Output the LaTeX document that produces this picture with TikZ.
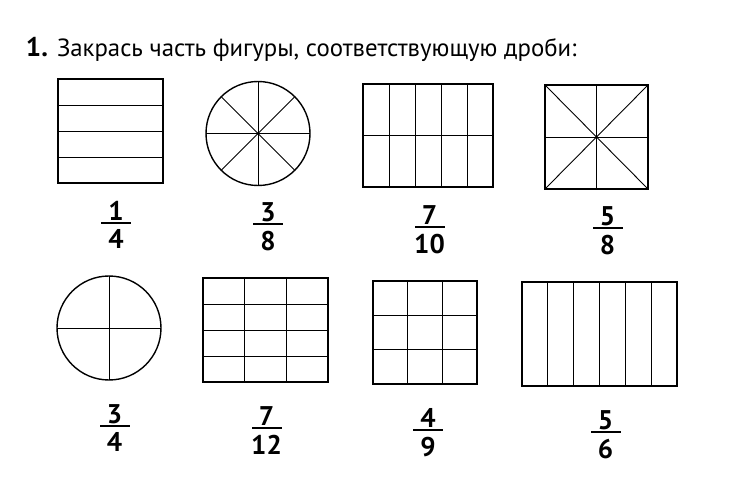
\documentclass[tikz,border=0pt]{standalone}
\usepackage{fontspec}
\setmainfont{PT Sans}
\usetikzlibrary{calc,positioning}
\tikzset{
  outline/.style={draw=black, line width=1.4pt, inner sep=0pt, outer sep=0pt},
  box/.style={outline, rectangle},
  disc/.style={outline, circle},
  inner/.style={line width=0.9pt, black},
  fbar/.style={fill=black, inner sep=0pt, outer sep=0pt, minimum width=30pt, minimum height=1.8pt},
  digit/.style={inner sep=0pt, outer sep=0pt, font=\fontsize{27}{27}\selectfont\bfseries},
  title/.style={inner sep=0pt, outer sep=0pt, anchor=base west, font=\fontsize{24.8}{24.8}\selectfont}
}
\newcommand{\fracat}[5]{% name, x, y, num, den
  \node[fbar] (#1) at (#2,#3) {};
  \node[digit, above=1.5pt of #1] (#1n) {#4};
  \node[digit, below=6pt of #1] (#1d) {#5};
}
\begin{document}
\begin{tikzpicture}[x=1pt,y=-1pt]
\useasboundingbox[fill=white] (0,0) rectangle (740,492);

% title
\node[title, font=\fontsize{27}{27}\selectfont\bfseries] (num) at (26,57) {1.};
\node[title] (ttl) at (57,57) {Закрась часть фигуры, соответствующую дроби:};

% 1: rectangle with 4 horizontal strips
\node[box, minimum width=105pt, minimum height=104pt] (r1) at (110.5,131) {};
\foreach \t in {0.25,0.5,0.75}
  \draw[inner] ($(r1.north west)!\t!(r1.south west)$) -- ($(r1.north east)!\t!(r1.south east)$);

% 2: circle in 8 sectors
\node[disc, minimum size=104pt] (c2) at (258,133.5) {};
\foreach \a in {0,45,90,135}
  \draw[inner] (c2.\a) -- (c2.\a+180);
\fill (c2.center) circle (1.3pt);

% 3: rectangle 5 x 2
\node[box, minimum width=130pt, minimum height=103pt] (r3) at (428,135.5) {};
\foreach \t in {0.2,0.4,0.6,0.8}
  \draw[inner] ($(r3.north west)!\t!(r3.north east)$) -- ($(r3.south west)!\t!(r3.south east)$);
\draw[inner] (r3.west) -- (r3.east);

% 4: square with diagonals and midlines
\node[box, minimum width=103pt, minimum height=104pt] (s4) at (596.5,137) {};
\draw[inner] (s4.north west) -- (s4.south east);
\draw[inner] (s4.north east) -- (s4.south west);
\draw[inner] (s4.north) -- (s4.south);
\draw[inner] (s4.west) -- (s4.east);
\fill (s4.center) circle (1.3pt);

% 5: circle in quarters
\node[disc, minimum size=104pt] (c5) at (109,328) {};
\draw[inner] (c5.north) -- (c5.south);
\draw[inner] (c5.west) -- (c5.east);

% 6: rectangle 3 x 4
\node[box, minimum width=125pt, minimum height=104pt] (r6) at (265.5,330) {};
\foreach \t in {0.3333,0.6667}
  \draw[inner] ($(r6.north west)!\t!(r6.north east)$) -- ($(r6.south west)!\t!(r6.south east)$);
\foreach \t in {0.25,0.5,0.75}
  \draw[inner] ($(r6.north west)!\t!(r6.south west)$) -- ($(r6.north east)!\t!(r6.south east)$);

% 7: square 3 x 3
\node[box, minimum width=104pt, minimum height=103pt] (s7) at (425,332.5) {};
\foreach \t in {0.3333,0.6667}{
  \draw[inner] ($(s7.north west)!\t!(s7.north east)$) -- ($(s7.south west)!\t!(s7.south east)$);
  \draw[inner] ($(s7.north west)!\t!(s7.south west)$) -- ($(s7.north east)!\t!(s7.south east)$);
}

% 8: rectangle 6 vertical strips
\node[box, minimum width=155pt, minimum height=104pt] (r8) at (599.5,334) {};
\foreach \t in {0.16667,0.33333,0.5,0.66667,0.83333}
  \draw[inner] ($(r8.north west)!\t!(r8.north east)$) -- ($(r8.south west)!\t!(r8.south east)$);

% fractions
\fracat{f1}{116}{223}{1}{4}
\fracat{f2}{268}{224}{3}{8}
\fracat{f3}{429.5}{227}{7}{10}
\fracat{f4}{607.5}{228}{5}{8}
\fracat{f5}{114.5}{426}{3}{4}
\fracat{f6}{266.5}{428}{7}{12}
\fracat{f7}{428}{430}{4}{9}
\fracat{f8}{605.5}{432}{5}{6}
\end{tikzpicture}
\end{document}
